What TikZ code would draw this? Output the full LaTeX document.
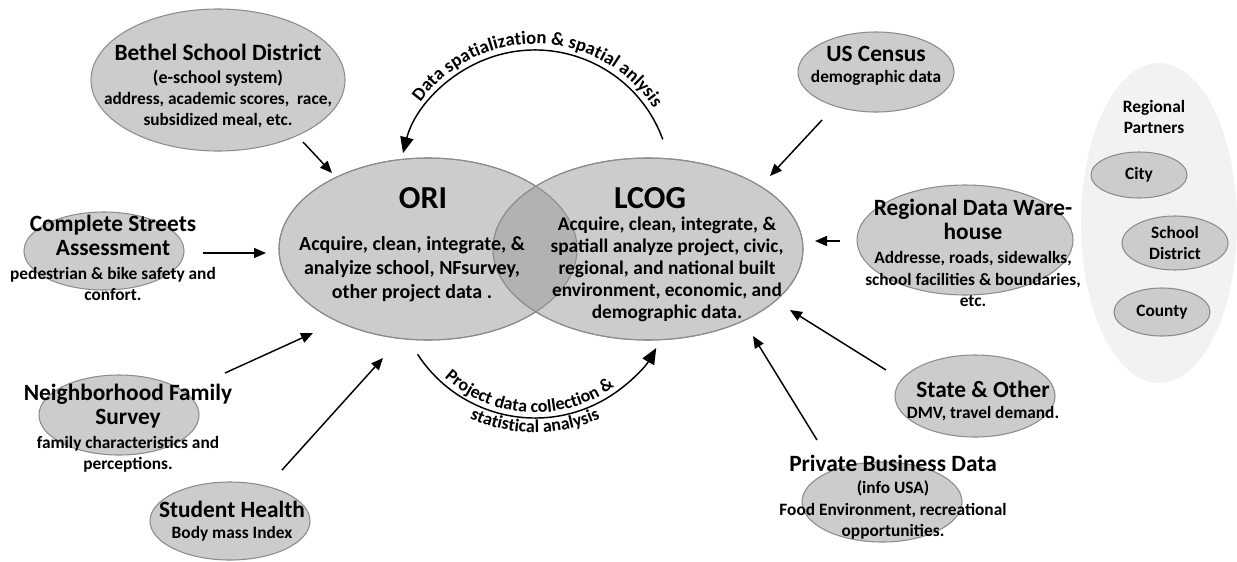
\documentclass[tikz,border=0pt]{standalone}
\usepackage{fontspec}
\setmainfont{Carlito}
\usetikzlibrary{shapes.geometric,arrows.meta,decorations.text}

\definecolor{blobfill}{gray}{0.80}
\definecolor{blobedge}{gray}{0.55}
\definecolor{overlap}{gray}{0.70}
\definecolor{partnerbg}{gray}{0.95}

\newcommand{\hd}{\fontsize{17.5}{21}\selectfont}
\newcommand{\bd}{\fontsize{13}{16}\selectfont}

\tikzset{
  blob/.style={ellipse, fill=blobfill, draw=blobedge, line width=0.8pt, inner sep=0pt},
  txt/.style={align=center, inner sep=0pt, font=\bfseries\bd},
  feed/.style={-{Triangle[length=9pt,width=7.5pt]}, line width=1.1pt},
  loop/.style={-{Triangle[length=12pt,width=10pt]}, line width=1.1pt},
  arctext/.style={decorate, decoration={text along path, text align=center, text={#1}}},
}

\begin{document}
\begin{tikzpicture}[x=0.75pt, y=0.75pt]
  \useasboundingbox (0,0) rectangle (1237,-561);

  % Regional partners
  \node[ellipse, fill=partnerbg, minimum width=117pt, minimum height=240pt] (partners) at (1159,-223) {};
  \node[txt] (partners-txt) at (1154,-117) {Regional\\Partners};
  \node[blob, txt, minimum width=72pt, minimum height=34.5pt] (city) at (1139,-175) {City};
  \node[blob, txt, minimum width=79.5pt, minimum height=40.5pt] (district) at (1175,-243) {School\\District};
  \node[blob, txt, minimum width=72pt, minimum height=36pt] (county) at (1162,-312) {County};

  % Define nodes
  \node[blob, minimum width=190.5pt, minimum height=106.5pt] (bethel) at (218,-80) {};
  \node[blob, minimum width=117pt, minimum height=60pt] (census) at (876,-72) {};
  \node[blob, minimum width=162pt, minimum height=82.5pt] (rdw) at (965,-240) {};
  \node[blob, minimum width=120pt, minimum height=58.5pt] (streets) at (104,-251) {};
  \node[blob, minimum width=120pt, minimum height=60pt] (nfs) at (119,-415) {};
  \node[blob, minimum width=120pt, minimum height=58.5pt] (health) at (230,-521) {};
  \node[blob, minimum width=120pt, minimum height=61.5pt] (state) at (975,-396) {};
  \node[blob, minimum width=120pt, minimum height=60pt] (private) at (882,-502) {};

  \node[blob, minimum width=223.5pt, minimum height=136.5pt] (ori) at (428,-249) {};
  \node[blob, minimum width=232.5pt, minimum height=136.5pt] (lcog) at (648,-249) {};
  \begin{scope}
    \clip (ori.center) ellipse [x radius=111.75pt, y radius=68.25pt];
    \fill[overlap] (lcog.center) ellipse [x radius=116.25pt, y radius=68.25pt];
  \end{scope}
  \draw[blobedge, line width=0.8pt] (ori.center) ellipse [x radius=111.75pt, y radius=68.25pt];
  \draw[blobedge, line width=0.8pt] (lcog.center) ellipse [x radius=116.25pt, y radius=68.25pt];

  % Texts
  \node[txt] (bethel-txt) at (218,-86) {{\hd Bethel School District}\\[1pt]
    {\fontsize{13.5}{16}\selectfont (e-school system)}\\address, academic scores,\ \ race,\\subsidized meal, etc.};
  \node[txt] (census-txt) at (876,-66) {{\hd US Census}\\demographic data};
  \node[txt] (rdw-txt) at (973,-253) {{\hd Regional Data Ware-}\\[2pt]{\hd house}\\[2pt]
    Addresse, roads, sidewalks,\\school facilities \& boundaries,\\etc.};
  \node[txt] (streets-txt) at (113,-258) {{\hd Complete Streets}\\[2pt]{\hd Assessment}\\[2pt]
    pedestrian \& bike safety and\\confort.};
  \node[txt] (nfs-txt) at (128,-428) {{\hd Neighborhood Family}\\[2pt]{\hd Survey}\\[2pt]
    family characteristics and\\perceptions.};
  \node[txt] (health-txt) at (232,-521) {{\hd Student Health}\\Body mass Index};
  \node[txt] (state-txt) at (983,-401) {{\hd State \& Other}\\DMV, travel demand.};
  \node[txt] (private-txt) at (893,-497) {{\hd Private Business Data}\\[1pt]
    (info USA)\\Food Environment, recreational\\opportunities.};

  \node[txt, font=\bfseries\fontsize{24}{28}\selectfont] (ori-title) at (423,-198) {ORI};
  \node[txt, font=\bfseries\fontsize{15}{18}\selectfont] (ori-body) at (412,-269)
    {Acquire, clean, integrate, \&\\analyize school, NFsurvey,\\other project data .};
  \node[txt, font=\bfseries\fontsize{24}{28}\selectfont] (lcog-title) at (650,-198) {LCOG};
  \node[txt, font=\bfseries\fontsize{14.5}{16.5}\selectfont] (lcog-body) at (667,-269)
    {Acquire, clean, integrate, \&\\spatiall analyze project, civic,\\regional, and national built\\environment, economic, and\\demographic data.};

  % Connect the nodes
  \coordinate (bethel-out) at (303,-142);  \coordinate (ori-in1) at (332,-173);
  \coordinate (streets-out) at (203,-253); \coordinate (ori-in2) at (266,-253);
  \coordinate (nfs-out) at (225,-373);     \coordinate (ori-in3) at (313,-333);
  \coordinate (health-out) at (282,-470);  \coordinate (ori-in4) at (383,-358);
  \coordinate (census-out) at (822,-120);  \coordinate (lcog-in1) at (770,-176);
  \coordinate (rdw-out) at (840,-241);     \coordinate (lcog-in2) at (815,-241);
  \coordinate (state-out) at (886,-370);   \coordinate (lcog-in3) at (790,-310);
  \coordinate (private-out) at (817,-440); \coordinate (lcog-in4) at (753,-336);

  \draw[feed] (bethel-out) -- (ori-in1);
  \draw[feed] (streets-out) -- (ori-in2);
  \draw[feed] (nfs-out) -- (ori-in3);
  \draw[feed] (health-out) -- (ori-in4);
  \draw[feed] (census-out) -- (lcog-in1);
  \draw[feed] (rdw-out) -- (lcog-in2);
  \draw[feed] (state-out) -- (lcog-in3);
  \draw[feed] (private-out) -- (lcog-in4);

  % Loops between ORI and LCOG
  \draw[loop] (535,-186) ++(20:102pt) coordinate (lcog-up)
    arc [start angle=20, end angle=166, radius=102pt] coordinate (ori-up);
  \path[arctext={|\bfseries\fontsize{14}{16}\selectfont|Data spatialization {\&} spatial anlysis}]
    (535,-186) ++(150:106.5pt) arc [start angle=150, end angle=27, radius=106.5pt];

  \draw[loop] (535,-278) ++(213:105pt) coordinate (ori-down)
    arc [start angle=213, end angle=330, radius=105pt] coordinate (lcog-down);
  \path[arctext={|\bfseries\fontsize{13.5}{16}\selectfont|Project data collection {\&}}]
    (535,-278) ++(212:101pt) arc [start angle=212, end angle=322, radius=101pt];
  \path[arctext={|\bfseries\fontsize{13.5}{16}\selectfont|statistical analysis}]
    (535,-278) ++(225:116pt) arc [start angle=225, end angle=315, radius=116pt];

\end{tikzpicture}
\end{document}
